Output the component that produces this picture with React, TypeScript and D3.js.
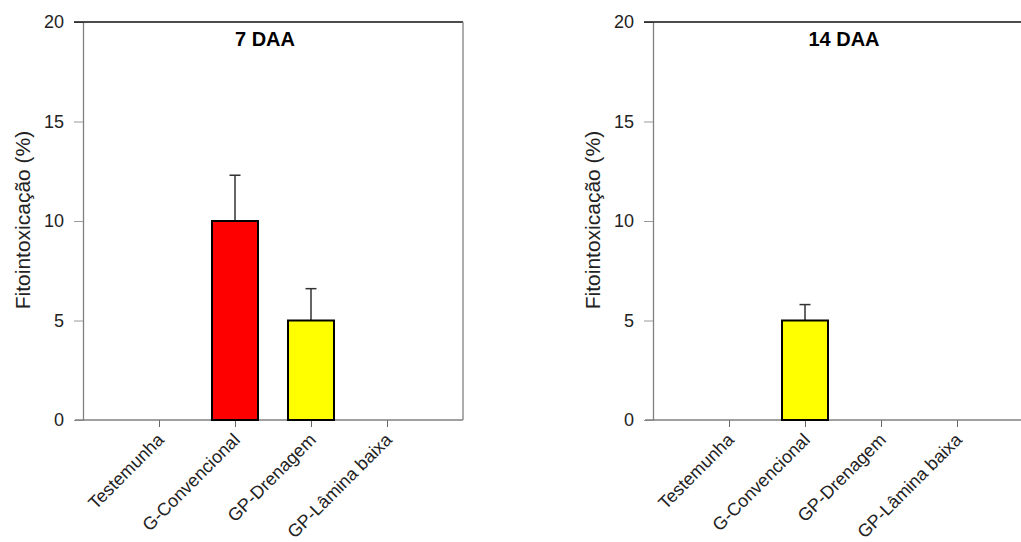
import { useEffect, useRef } from 'react';
import * as d3 from 'd3';

// Fitointoxicação (%) per treatment, two evaluation dates
const categories = ['Testemunha', 'G-Convencional', 'GP-Drenagem', 'GP-Lâmina baixa'];

const daa7Values = [0, 10, 5, 0];
const daa7Errors = [0, 2.3, 1.6, 0];
const daa7Colors = ['#FF0000', '#FF0000', '#FFFF00', '#FFFF00'];

const daa14Values = [0, 5, 0, 0];
const daa14Errors = [0, 0.8, 0, 0];
const daa14Colors = ['#FFFF00', '#FFFF00', '#FFFF00', '#FFFF00'];

const yTicks = [0, 5, 10, 15, 20];
const yLabel = 'Fitointoxicação (%)';

const FONT = "'Liberation Sans', Arial, sans-serif";

export default function App() {
  const svgRef = useRef<SVGSVGElement | null>(null);

  useEffect(() => {
    if (!svgRef.current) return;
    const root = d3.select(svgRef.current);
    root.selectAll('*').remove();

    const width = 380;
    const height = 398;

    const panels = [
      { left: 83, title: '7 DAA', titleX: 182, values: daa7Values, errors: daa7Errors, colors: daa7Colors },
      { left: 653, title: '14 DAA', titleX: 191, values: daa14Values, errors: daa14Errors, colors: daa14Colors },
    ];

    panels.forEach(p => {
      const g = root.append('g').attr('transform', `translate(${p.left}, 22)`);

      const x = d3.scalePoint<string>().domain(categories).range([0, width]).padding(1);
      const y = d3.scaleLinear().domain([0, 20]).range([height, 0]);

      // Y axis
      g.append('g')
        .call(d3.axisLeft(y).tickValues(yTicks).tickSize(9).tickSizeOuter(0).tickPadding(10))
        .call(a => a.select('.domain').attr('stroke', '#808080').attr('stroke-width', 1.3))
        .call(a => a.selectAll('.tick line').attr('stroke', '#999'))
        .selectAll('text')
        .attr('fill', '#222')
        .attr('font-size', '18px')
        .attr('font-family', FONT);

      // X ticks
      g.append('g')
        .attr('transform', `translate(0, ${height})`)
        .call(d3.axisBottom(x).tickSize(7).tickSizeOuter(0).tickFormat(() => ''))
        .call(a => a.select('.domain').remove())
        .call(a => a.selectAll('.tick line').attr('stroke', '#666'));

      // frame
      g.append('line')
        .attr('x1', -8).attr('x2', width).attr('y1', height).attr('y2', height)
        .attr('stroke', '#808080').attr('stroke-width', 1.3);
      g.append('line')
        .attr('x1', -9).attr('x2', width).attr('y1', 0).attr('y2', 0)
        .attr('stroke', '#111').attr('stroke-width', 1.5);
      g.append('line')
        .attr('x1', width).attr('x2', width).attr('y1', 0).attr('y2', height)
        .attr('stroke', '#808080').attr('stroke-width', 1.3);

      // x labels
      g.selectAll('.xlab')
        .data(categories)
        .join('text')
        .attr('class', 'xlab')
        .attr('transform', d => `translate(${(x(d) ?? 0) + 6}, ${height + 21}) rotate(-45)`)
        .attr('text-anchor', 'end')
        .attr('fill', '#222')
        .attr('font-size', '18px')
        .attr('font-family', FONT)
        .text(d => d);

      const barW = 46;
      const capW = 11;
      const rows = categories.map((c, i) => ({ c, v: p.values[i], e: p.errors[i], col: p.colors[i] }))
        .filter(r => r.v > 0);

      // error bars
      g.selectAll('.err')
        .data(rows)
        .join('line')
        .attr('x1', d => x(d.c) ?? 0)
        .attr('x2', d => x(d.c) ?? 0)
        .attr('y1', d => y(d.v))
        .attr('y2', d => y(d.v + d.e))
        .attr('stroke', '#333')
        .attr('stroke-width', 1.5);
      g.selectAll('.cap')
        .data(rows)
        .join('line')
        .attr('x1', d => (x(d.c) ?? 0) - capW / 2)
        .attr('x2', d => (x(d.c) ?? 0) + capW / 2)
        .attr('y1', d => y(d.v + d.e))
        .attr('y2', d => y(d.v + d.e))
        .attr('stroke', '#333')
        .attr('stroke-width', 1.5);

      // bars
      g.selectAll('.bar')
        .data(rows)
        .join('rect')
        .attr('class', 'bar')
        .attr('x', d => (x(d.c) ?? 0) - barW / 2)
        .attr('width', barW)
        .attr('y', d => y(d.v))
        .attr('height', d => height - y(d.v))
        .attr('fill', d => d.col)
        .attr('stroke', '#000')
        .attr('stroke-width', 2);

      // title
      g.append('text')
        .attr('x', p.titleX)
        .attr('y', 24)
        .attr('text-anchor', 'middle')
        .attr('font-size', '20px')
        .attr('font-weight', 'bold')
        .attr('font-family', FONT)
        .attr('fill', '#000')
        .text(p.title);

      // y label
      g.append('text')
        .attr('transform', `translate(${-53}, ${198}) rotate(-90)`)
        .attr('text-anchor', 'middle')
        .attr('font-size', '21px')
        .attr('font-family', FONT)
        .attr('fill', '#222')
        .text(yLabel);
    });
  }, []);

  return (
    <svg
      ref={svgRef}
      width={1021}
      height={542}
      style={{ position: 'absolute', left: 0, top: 0, background: '#fff' }}
    />
  );
}
